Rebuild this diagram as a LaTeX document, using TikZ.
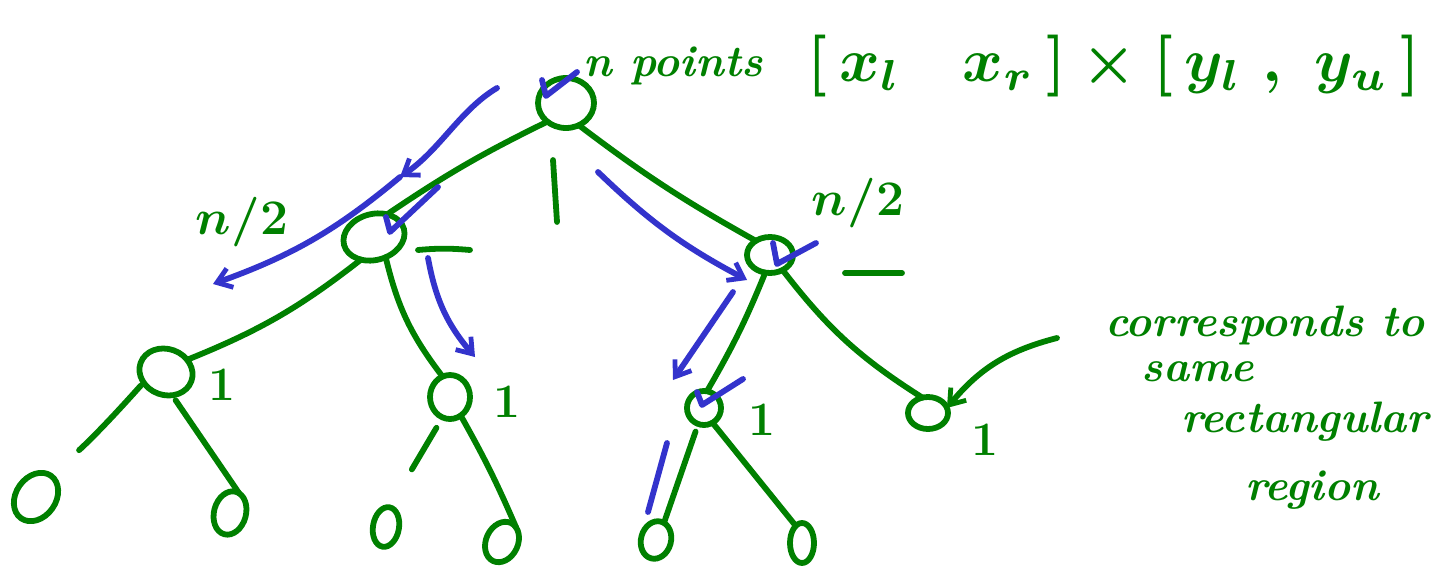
\documentclass[tikz,border=0pt]{standalone}
\usepackage{graphicx}
\usetikzlibrary{shapes.geometric,arrows.meta}
\definecolor{grn}{RGB}{0,128,0}
\definecolor{blu}{RGB}{51,51,204}
\tikzset{
  tn/.style={ellipse,draw=grn,line width=2.9pt,inner sep=0pt,outer sep=0pt},
  ge/.style={draw=grn,line width=2.9pt,line cap=round},
  be/.style={draw=blu,line width=2.9pt,line cap=round,line join=round},
  barb/.style={-{Straight Barb[length=7pt,width=10pt,line width=2.4pt]}},
  txt/.style={text=grn,inner sep=0pt,font=\bfseries\itshape\fontsize{22}{24}\selectfont},
  one/.style={text=grn,inner sep=0pt,font=\bfseries\fontsize{24}{26}\selectfont},
  half/.style={text=grn,inner sep=0pt,font=\fontsize{26}{28}\selectfont\boldmath},
}
\begin{document}
\begin{tikzpicture}[x=0.5pt,y=-0.5pt]
\fill[white] (0,0) rectangle (1456,567);
\path[use as bounding box] (0,0) rectangle (1456,567);

% tree nodes
\node[tn,minimum width=28pt,minimum height=25pt] (r) at (566,103) {};
\node[tn,minimum width=31pt,minimum height=23pt,rotate=15] (a) at (374,237) {};
\node[tn,minimum width=23pt,minimum height=18pt] (b) at (770,255) {};
\node[tn,minimum width=27pt,minimum height=23pt,rotate=-20] (c) at (166,372) {};
\node[tn,minimum width=20pt,minimum height=22pt] (d) at (450,397) {};
\node[tn,minimum width=17pt,minimum height=17pt] (e) at (704,408) {};
\node[tn,minimum width=20pt,minimum height=16pt] (f) at (928,413) {};
\node[tn,minimum width=20pt,minimum height=26pt,rotate=-35] (g) at (36,497) {};
\node[tn,minimum width=16pt,minimum height=22pt,rotate=-15] (h) at (230,513) {};
\node[tn,minimum width=13pt,minimum height=20pt,rotate=-10] (i) at (386,527) {};
\node[tn,minimum width=16pt,minimum height=21pt,rotate=-25] (j) at (502,542) {};
\node[tn,minimum width=15pt,minimum height=19pt,rotate=-15] (k) at (656,540) {};
\node[tn,minimum width=12pt,minimum height=20pt] (l) at (802,543) {};

% tree edges
\draw[ge] (r.225) to[bend right=4] (a.45);
\draw[ge] (r.300) to[bend right=4] (b.135);
\draw[ge] (a.225) to[bend left=8] (c.50);
\draw[ge] (a.285) to[bend right=12] (d.110);
\draw[ge] (b.255) to[bend left=4] (e.80);
\draw[ge] (b.310) to[bend right=10] (f.110);
\draw[ge,shorten <=2pt,shorten >=19pt] (c.225) to[bend left=3] (g.90);
\draw[ge,shorten <=3pt] (c.305) -- (h.80);
\draw[ge,shorten <=6pt,shorten >=22pt] (d.250) -- (i.90);
\draw[ge] (d.300) to[bend left=3] (j.70);
\draw[ge,shorten <=4pt] (e.250) -- (k.80);
\draw[ge] (e.300) -- (l.110);

% extra strokes
\coordinate (v1) at (553,160); \coordinate (v2) at (557,222);
\draw[ge] (v1) -- (v2);
\coordinate (h1) at (418,250); \coordinate (h2) at (470,250);
\draw[ge] (h1) to[bend left=5] (h2);
\coordinate (h3) at (845,273); \coordinate (h4) at (902,273);
\draw[ge] (h3) -- (h4);

% blue arrows
\coordinate (b1s) at (497,88); \coordinate (b1m) at (400,177); \coordinate (b1e) at (213,284);
\draw[be,barb] (b1s) .. controls (460,110) and (440,150) .. (b1m);
\draw[be,barb] (b1m) to[bend left=10] (b1e);
\coordinate (b2s) at (428,258); \coordinate (b2e) at (475,357);
\draw[be,barb] (b2s) to[bend right=15] (b2e);
\coordinate (b3s) at (598,172); \coordinate (b3e) at (747,280);
\draw[be,barb] (b3s) to[bend right=8] (b3e);
\coordinate (b4s) at (733,292); \coordinate (b4e) at (673,380);
\draw[be,barb] (b4s) -- (b4e);
\coordinate (b5s) at (667,443); \coordinate (b5e) at (648,512);
\draw[be] (b5s) -- (b5e);
% blue check marks
\coordinate (c1a) at (577,72); \coordinate (c1b) at (546,96); \coordinate (c1c) at (542,80);
\draw[be] (c1a) -- (c1b) -- (c1c);
\coordinate (c2a) at (438,187); \coordinate (c2b) at (390,232); \coordinate (c2c) at (386,217);
\draw[be] (c2a) -- (c2b) -- (c2c);
\coordinate (c3a) at (816,243); \coordinate (c3b) at (777,264); \coordinate (c3c) at (773,243);
\draw[be] (c3a) -- (c3b) -- (c3c);
\coordinate (c4a) at (743,379); \coordinate (c4b) at (702,405); \coordinate (c4c) at (697,392);
\draw[be] (c4a) -- (c4b) -- (c4c);

% green annotation arrow
\coordinate (ga) at (1057,338);
\draw[ge,barb] (ga) to[bend right=18] (f.15);

% texts
\node[txt] (np) at (673,66) {n points};
\node[text=grn,inner sep=0pt] (rng) at (1114,66) {\resizebox{306pt}{!}{\boldmath$[\,x_l\quad x_r\,]\times[\,y_l\ ,\ y_u\,]$}};
\node[half] (n2a) at (242,222) {$n/2$};
\node[half] (n2b) at (858,203) {$n/2$};
\node[one] (o1) at (222,385) {1};
\node[one] (o2) at (507,402) {1};
\node[one] (o3) at (762,420) {1};
\node[one] (o4) at (985,440) {1};
\node[txt] (t1) at (1265,325) {corresponds to};
\node[txt] (t2) at (1198,372) {same};
\node[txt] (t3) at (1305,422) {rectangular};
\node[txt] (t4) at (1312,490) {region};
\end{tikzpicture}
\end{document}
